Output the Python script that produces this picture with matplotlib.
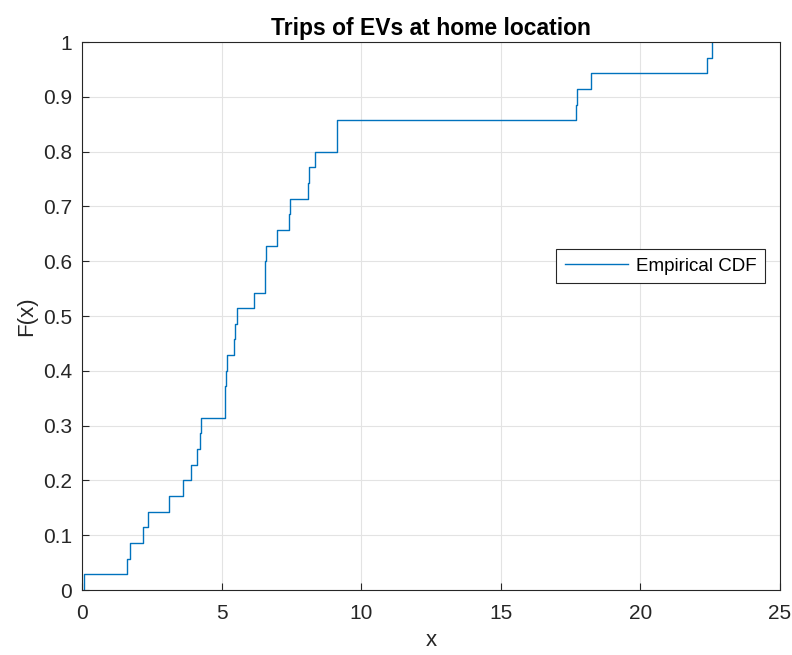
import numpy as np
import matplotlib
matplotlib.use("Agg")
import matplotlib.pyplot as plt

# trip samples (35 samples)
trips = [0.07, 1.60, 1.72, 2.19, 2.37, 3.13, 3.63, 3.90, 4.11, 4.23,
         4.27, 5.12, 5.13, 5.16, 5.20, 5.43, 5.47, 5.54, 6.15, 6.54,
         6.56, 6.60, 6.99, 7.43, 7.45, 8.08, 8.14, 8.33, 9.12, 9.15,
         17.70, 17.73, 18.23, 22.40, 22.56]
x_ticks = [0, 5, 10, 15, 20, 25]
y_ticks = [0, 0.1, 0.2, 0.3, 0.4, 0.5, 0.6, 0.7, 0.8, 0.9, 1]
y_tick_labels = ["0", "0.1", "0.2", "0.3", "0.4", "0.5", "0.6", "0.7", "0.8", "0.9", "1"]

plt.rcParams['font.family'] = ['Liberation Sans', 'DejaVu Sans']

xs = np.sort(np.array(trips))
n = len(xs)
ys = np.arange(1, n + 1) / n
step_x = np.concatenate([[xs[0]], xs])
step_y = np.concatenate([[0.0], ys])

fig = plt.figure(figsize=(7.92, 6.55), dpi=100)
ax = fig.add_axes([82 / 792, 65 / 655, 698 / 792, 548 / 655])

ax.step(step_x, step_y, where='post', color='#0072BD', lw=1.0, label='Empirical CDF')

ax.set_xlim(0, 25)
ax.set_ylim(0, 1)
ax.set_xticks(x_ticks)
ax.set_yticks(y_ticks)
ax.set_yticklabels(y_tick_labels)
ax.grid(True, color='#e3e3e3', lw=0.8)
ax.set_axisbelow(True)
ax.tick_params(direction='in', length=5, width=0.8, colors='#262626', labelsize=15)
ax.tick_params(axis='x', pad=10)
ax.tick_params(axis='y', pad=7)
for s in ax.spines.values():
    s.set_color('#262626')
    s.set_linewidth(0.8)

ax.set_title('Trips of EVs at home location', fontsize=16.5, fontweight='bold', pad=5)
ax.set_xlabel('x', fontsize=16, color='#262626', labelpad=5)
ax.set_ylabel('F(x)', fontsize=16, color='#262626', labelpad=4)

leg = ax.legend(loc='center right', bbox_to_anchor=((765 - 82) / 698, (590 - 266) / 548),
                fontsize=13.5, fancybox=False, framealpha=1, edgecolor='#262626',
                handlelength=3.4, handletextpad=0.4, borderpad=0.45, borderaxespad=0)
leg.get_frame().set_linewidth(0.8)

fig.savefig('out.png', dpi=100)
